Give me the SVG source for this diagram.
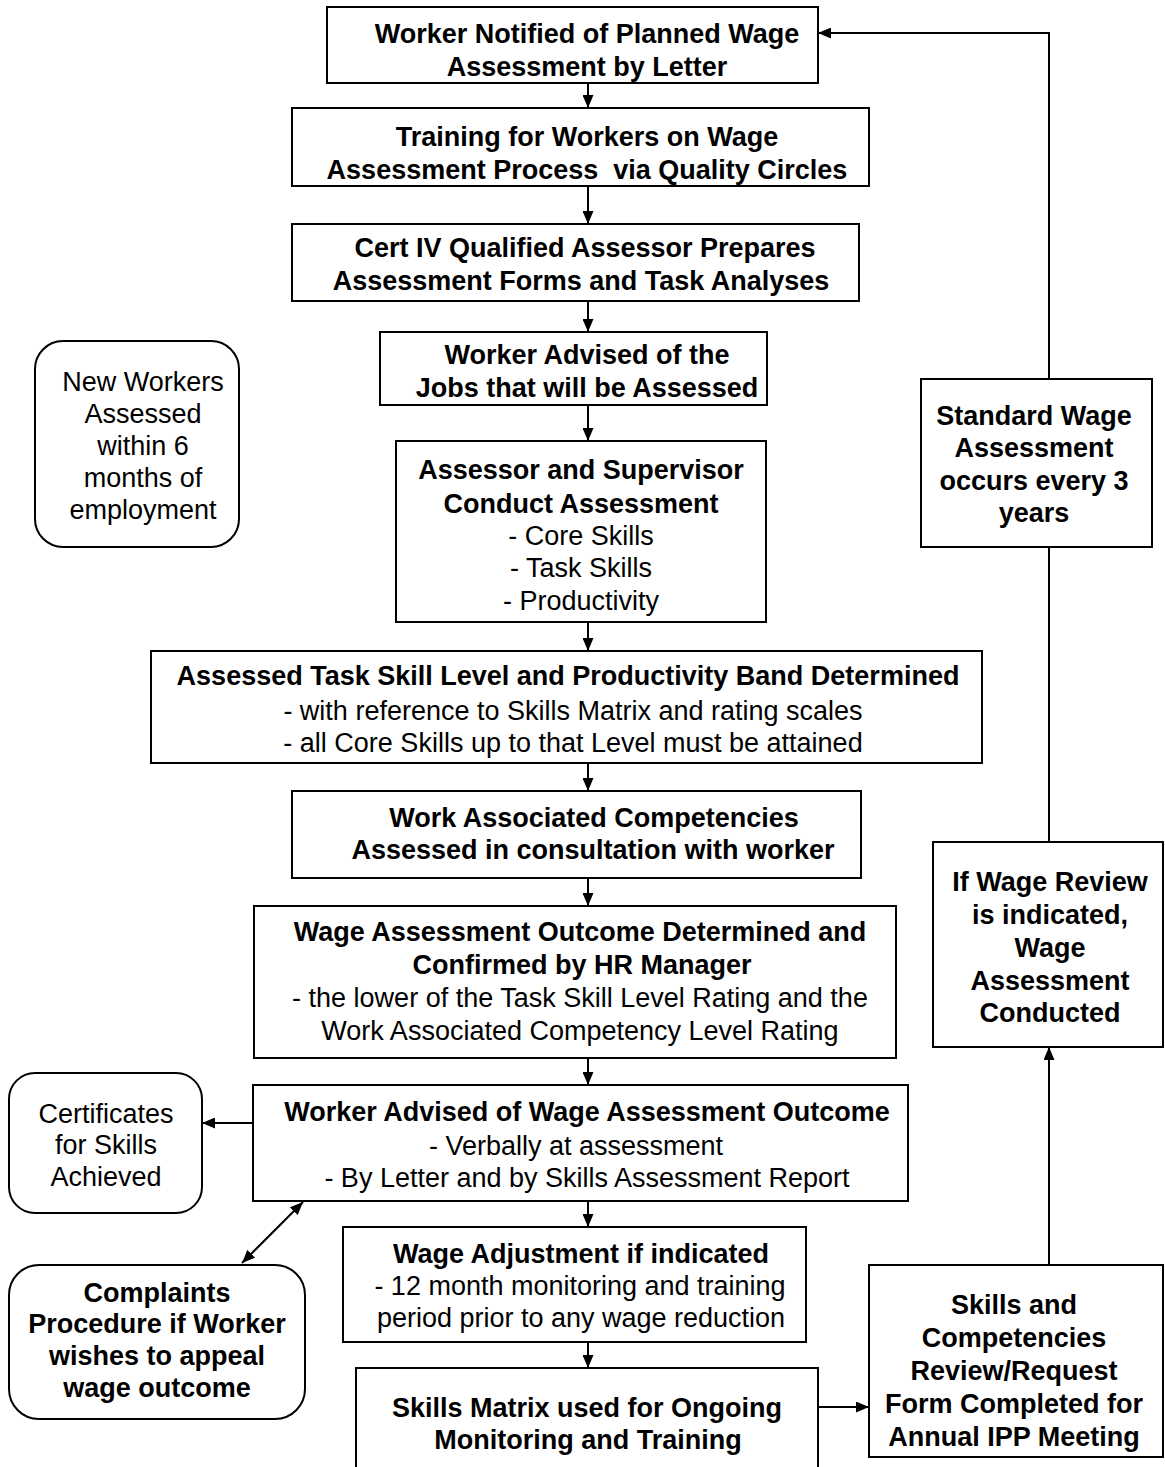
<svg xmlns="http://www.w3.org/2000/svg" width="1165" height="1467" viewBox="0 0 1165 1467">
  <style>
    .box { fill: #ffffff; stroke: #000000; stroke-width: 2; }
    .link { fill: none; stroke: #000000; stroke-width: 2; }
    text { font-family: "Liberation Sans", Arial, sans-serif; font-size: 27px; fill: #000000; text-anchor: middle; }
    .b { font-weight: bold; }
  </style>
  <defs>
    <marker id="arrow" viewBox="0 0 13 11" refX="13" refY="5.5" markerWidth="13" markerHeight="11" markerUnits="userSpaceOnUse" orient="auto-start-reverse">
      <path d="M0,0 L13,5.5 L0,11 z" fill="#000000"/>
    </marker>
  </defs>
  <rect width="1165" height="1467" fill="#ffffff"/>

  <!-- connectors -->
  <g id="connectors">
    <line class="link" x1="588" y1="83" x2="588" y2="108" marker-end="url(#arrow)"/>
    <line class="link" x1="588" y1="186" x2="588" y2="224" marker-end="url(#arrow)"/>
    <line class="link" x1="588" y1="301" x2="588" y2="332" marker-end="url(#arrow)"/>
    <line class="link" x1="588" y1="405" x2="588" y2="441" marker-end="url(#arrow)"/>
    <line class="link" x1="588" y1="622" x2="588" y2="651" marker-end="url(#arrow)"/>
    <line class="link" x1="588" y1="763" x2="588" y2="791" marker-end="url(#arrow)"/>
    <line class="link" x1="588" y1="878" x2="588" y2="906" marker-end="url(#arrow)"/>
    <line class="link" x1="588" y1="1058" x2="588" y2="1085" marker-end="url(#arrow)"/>
    <line class="link" x1="588" y1="1201" x2="588" y2="1227" marker-end="url(#arrow)"/>
    <line class="link" x1="588" y1="1342" x2="588" y2="1368" marker-end="url(#arrow)"/>
    <!-- side outputs -->
    <line class="link" x1="253" y1="1123" x2="202" y2="1123" marker-end="url(#arrow)"/>
    <line class="link" x1="303" y1="1202" x2="242" y2="1263" marker-start="url(#arrow)" marker-end="url(#arrow)"/>
    <line class="link" x1="818" y1="1407" x2="869" y2="1407" marker-end="url(#arrow)"/>
    <!-- review loop on the right -->
    <line class="link" x1="1049" y1="1265" x2="1049" y2="1047" marker-end="url(#arrow)"/>
    <line class="link" x1="1049" y1="842" x2="1049" y2="547"/>
    <polyline class="link" points="1049,379 1049,33 818,33" marker-end="url(#arrow)"/>
  </g>

  <g id="n-notified">
    <rect class="box" x="327" y="7" width="491" height="76"/>
    <text class="b" x="587" y="43">Worker Notified of Planned Wage</text>
    <text class="b" x="587" y="76">Assessment by Letter</text>
  </g>

  <g id="n-training">
    <rect class="box" x="292" y="108" width="577" height="78"/>
    <text class="b" x="587" y="146">Training for Workers on Wage</text>
    <text class="b" x="587" y="179" style="white-space:pre">Assessment Process  via Quality Circles</text>
  </g>

  <g id="n-prepares">
    <rect class="box" x="292" y="224" width="567" height="77"/>
    <text class="b" x="585" y="257">Cert IV Qualified Assessor Prepares</text>
    <text class="b" x="581" y="290">Assessment Forms and Task Analyses</text>
  </g>

  <g id="n-advised-jobs">
    <rect class="box" x="380" y="332" width="387" height="73"/>
    <text class="b" x="587" y="364">Worker Advised of the</text>
    <text class="b" x="587" y="397">Jobs that will be Assessed</text>
  </g>

  <g id="n-conduct">
    <rect class="box" x="396" y="441" width="370" height="181"/>
    <text class="b" x="581" y="479">Assessor and Supervisor</text>
    <text class="b" x="581" y="513">Conduct Assessment</text>
    <text x="581" y="545">- Core Skills</text>
    <text x="581" y="577">- Task Skills</text>
    <text x="581" y="610">- Productivity</text>
  </g>

  <g id="n-skill-level">
    <rect class="box" x="151" y="651" width="831" height="112"/>
    <text class="b" x="568" y="685">Assessed Task Skill Level and Productivity Band Determined</text>
    <text x="573" y="720">- with reference to Skills Matrix and rating scales</text>
    <text x="573" y="752">- all Core Skills up to that Level must be attained</text>
  </g>

  <g id="n-competencies">
    <rect class="box" x="292" y="791" width="569" height="87"/>
    <text class="b" x="594" y="827">Work Associated Competencies</text>
    <text class="b" x="593" y="859">Assessed in consultation with worker</text>
  </g>

  <g id="n-outcome">
    <rect class="box" x="254" y="906" width="642" height="152"/>
    <text class="b" x="580" y="941">Wage Assessment Outcome Determined and</text>
    <text class="b" x="582" y="974">Confirmed by HR Manager</text>
    <text x="580" y="1007">- the lower of the Task Skill Level Rating and the</text>
    <text x="580" y="1040">Work Associated Competency Level Rating</text>
  </g>

  <g id="n-advised-outcome">
    <rect class="box" x="253" y="1085" width="655" height="116"/>
    <text class="b" x="587" y="1121">Worker Advised of Wage Assessment Outcome</text>
    <text x="576" y="1155">- Verbally at assessment</text>
    <text x="587" y="1187">- By Letter and by Skills Assessment Report</text>
  </g>

  <g id="n-adjustment">
    <rect class="box" x="343" y="1227" width="463" height="115"/>
    <text class="b" x="581" y="1263">Wage Adjustment if indicated</text>
    <text x="580" y="1295">- 12 month monitoring and training</text>
    <text x="581" y="1327">period prior to any wage reduction</text>
  </g>

  <g id="n-matrix">
    <rect class="box" x="356" y="1368" width="462" height="110"/>
    <text class="b" x="587" y="1417">Skills Matrix used for Ongoing</text>
    <text class="b" x="588" y="1449">Monitoring and Training</text>
  </g>

  <g id="n-review-form">
    <rect class="box" x="869" y="1265" width="294" height="192"/>
    <text class="b" x="1014" y="1314">Skills and</text>
    <text class="b" x="1014" y="1347">Competencies</text>
    <text class="b" x="1014" y="1380">Review/Request</text>
    <text class="b" x="1014" y="1413">Form Completed for</text>
    <text class="b" x="1014" y="1446">Annual IPP Meeting</text>
  </g>

  <g id="n-wage-review">
    <rect class="box" x="933" y="842" width="230" height="205"/>
    <text class="b" x="1050" y="891">If Wage Review</text>
    <text class="b" x="1050" y="924">is indicated,</text>
    <text class="b" x="1050" y="957">Wage</text>
    <text class="b" x="1050" y="990">Assessment</text>
    <text class="b" x="1050" y="1022">Conducted</text>
  </g>

  <g id="n-standard">
    <rect class="box" x="921" y="379" width="231" height="168"/>
    <text class="b" x="1034" y="425">Standard Wage</text>
    <text class="b" x="1034" y="457">Assessment</text>
    <text class="b" x="1034" y="490">occurs every 3</text>
    <text class="b" x="1034" y="522">years</text>
  </g>

  <g id="n-new-workers">
    <rect class="box" x="35" y="341" width="204" height="206" rx="28" ry="28"/>
    <text x="143" y="391">New Workers</text>
    <text x="143" y="423">Assessed</text>
    <text x="143" y="455">within 6</text>
    <text x="143" y="487">months of</text>
    <text x="143" y="519">employment</text>
  </g>

  <g id="n-certificates">
    <rect class="box" x="9" y="1073" width="193" height="140" rx="26" ry="26"/>
    <text x="106" y="1123">Certificates</text>
    <text x="106" y="1154">for Skills</text>
    <text x="106" y="1186">Achieved</text>
  </g>

  <g id="n-complaints">
    <rect class="box" x="9" y="1265" width="296" height="154" rx="30" ry="30"/>
    <text class="b" x="157" y="1302">Complaints</text>
    <text class="b" x="157" y="1333">Procedure if Worker</text>
    <text class="b" x="157" y="1365">wishes to appeal</text>
    <text class="b" x="157" y="1397">wage outcome</text>
  </g>
</svg>
